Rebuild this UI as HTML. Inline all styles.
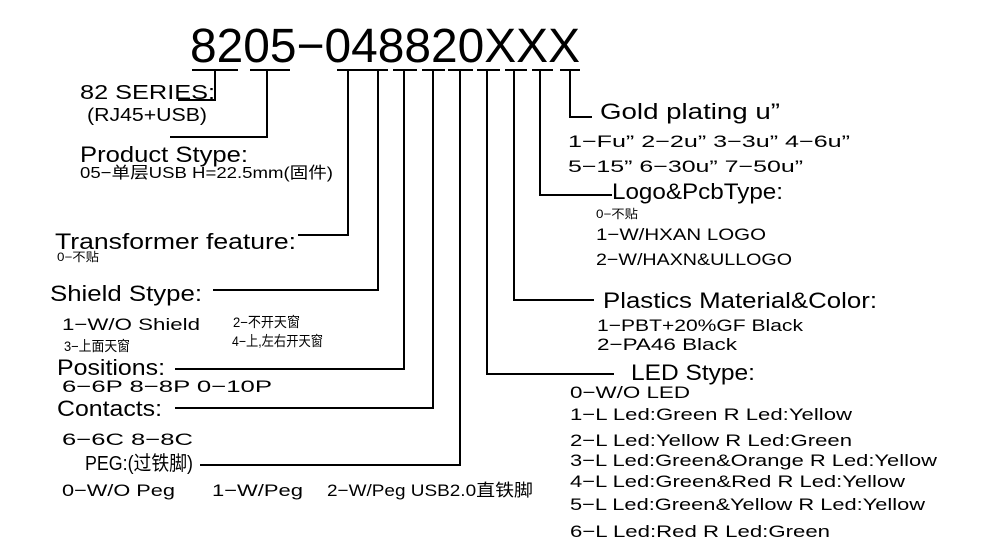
<!DOCTYPE html>
<html><head><meta charset="utf-8"><style>
html,body{margin:0;padding:0;background:#fff;width:1000px;height:547px;overflow:hidden}
svg text{font-family:"Liberation Sans","Noto Sans CJK SC",sans-serif;fill:#000}
</style></head><body>
<svg width="1000" height="547" viewBox="0 0 1000 547" xmlns="http://www.w3.org/2000/svg">
<g stroke="#000" stroke-width="2" fill="none">
<path d="M192 70H238M250 70H290M337 70H367M365 70H388M393 70H417M422 70H445M448 70H473M477 70H500M505 70H527M532 70H553M560 70H580"/>
<path d="M215 70V100H178"/>
<path d="M267 70V137H170"/>
<path d="M348 70V235H298"/>
<path d="M378 70V290H213"/>
<path d="M404 70V369H175"/>
<path d="M433 70V408H175"/>
<path d="M460 70V465H200"/>
<path d="M487 70V374H614"/>
<path d="M514 70V300H594"/>
<path d="M540 70V195H612"/>
<path d="M570 70V117H592"/>
</g>
<text x="190" y="62" font-size="48" textLength="390" lengthAdjust="spacingAndGlyphs">8205−048820XXX</text>
<g font-size="20">
<text x="80" y="99" textLength="135" lengthAdjust="spacingAndGlyphs">82 SERIES:</text>
<text x="87" y="121" font-size="18" textLength="120" lengthAdjust="spacingAndGlyphs">(RJ45+USB)</text>
<text x="80" y="162" font-size="22" textLength="168" lengthAdjust="spacingAndGlyphs">Product Stype:</text>
<text x="80" y="178" font-size="16" textLength="253" lengthAdjust="spacingAndGlyphs">05−单层USB H=22.5mm(固件)</text>
<text x="55" y="249" font-size="22" textLength="241" lengthAdjust="spacingAndGlyphs">Transformer feature:</text>
<text x="57" y="261" font-size="12" textLength="42" lengthAdjust="spacingAndGlyphs">0−不贴</text>
<text x="50" y="301" font-size="22" textLength="152" lengthAdjust="spacingAndGlyphs">Shield Stype:</text>
<text x="62" y="330" font-size="17" textLength="138" lengthAdjust="spacingAndGlyphs">1−W/O Shield</text>
<text x="233" y="327" font-size="14" textLength="67" lengthAdjust="spacingAndGlyphs">2−不开天窗</text>
<text x="64" y="351" font-size="14" textLength="66" lengthAdjust="spacingAndGlyphs">3−上面天窗</text>
<text x="232" y="346" font-size="14" textLength="91" lengthAdjust="spacingAndGlyphs">4−上,左右开天窗</text>
<text x="57" y="375" font-size="22" textLength="108" lengthAdjust="spacingAndGlyphs">Positions:</text>
<text x="62" y="392" font-size="17" textLength="210" lengthAdjust="spacingAndGlyphs">6−6P  8−8P  0−10P</text>
<text x="57" y="416" font-size="22" textLength="105" lengthAdjust="spacingAndGlyphs">Contacts:</text>
<text x="62" y="445" font-size="17" textLength="131" lengthAdjust="spacingAndGlyphs">6−6C  8−8C</text>
<text x="85" y="470" font-size="20" textLength="108" lengthAdjust="spacingAndGlyphs">PEG:(过铁脚)</text>
<text x="62" y="496" font-size="17" textLength="113" lengthAdjust="spacingAndGlyphs">0−W/O Peg</text>
<text x="212" y="496" font-size="17" textLength="91" lengthAdjust="spacingAndGlyphs">1−W/Peg</text>
<text x="327" y="496" font-size="17" textLength="206" lengthAdjust="spacingAndGlyphs">2−W/Peg USB2.0直铁脚</text>

<text x="600" y="119" font-size="22" textLength="180" lengthAdjust="spacingAndGlyphs">Gold plating u”</text>
<text x="568" y="147" font-size="17" textLength="282" lengthAdjust="spacingAndGlyphs">1−Fu” 2−2u” 3−3u” 4−6u”</text>
<text x="568" y="172" font-size="17" textLength="235" lengthAdjust="spacingAndGlyphs">5−15” 6−30u” 7−50u”</text>
<text x="612" y="199" font-size="22" textLength="171" lengthAdjust="spacingAndGlyphs">Logo&amp;PcbType:</text>
<text x="596" y="218" font-size="12" textLength="42" lengthAdjust="spacingAndGlyphs">0−不贴</text>
<text x="596" y="240" font-size="17" textLength="170" lengthAdjust="spacingAndGlyphs">1−W/HXAN LOGO</text>
<text x="596" y="265" font-size="17" textLength="196" lengthAdjust="spacingAndGlyphs">2−W/HAXN&amp;ULLOGO</text>
<text x="603" y="308" font-size="22" textLength="274" lengthAdjust="spacingAndGlyphs">Plastics Material&amp;Color:</text>
<text x="597" y="331" font-size="17" textLength="206" lengthAdjust="spacingAndGlyphs">1−PBT+20%GF Black</text>
<text x="597" y="350" font-size="17" textLength="140" lengthAdjust="spacingAndGlyphs">2−PA46 Black</text>
<text x="631" y="380" font-size="22" textLength="124" lengthAdjust="spacingAndGlyphs">LED Stype:</text>
<text x="570" y="398" font-size="17" textLength="120" lengthAdjust="spacingAndGlyphs">0−W/O LED</text>
<text x="570" y="420" font-size="17" textLength="282" lengthAdjust="spacingAndGlyphs">1−L Led:Green R Led:Yellow</text>
<text x="570" y="446" font-size="17" textLength="282" lengthAdjust="spacingAndGlyphs">2−L Led:Yellow R Led:Green</text>
<text x="570" y="466" font-size="17" textLength="367" lengthAdjust="spacingAndGlyphs">3−L Led:Green&amp;Orange R Led:Yellow</text>
<text x="570" y="487" font-size="17" textLength="335" lengthAdjust="spacingAndGlyphs">4−L Led:Green&amp;Red R Led:Yellow</text>
<text x="570" y="510" font-size="17" textLength="355" lengthAdjust="spacingAndGlyphs">5−L Led:Green&amp;Yellow R Led:Yellow</text>
<text x="570" y="537" font-size="17" textLength="260" lengthAdjust="spacingAndGlyphs">6−L Led:Red R Led:Green</text>
</g>
</svg>
</body></html>
